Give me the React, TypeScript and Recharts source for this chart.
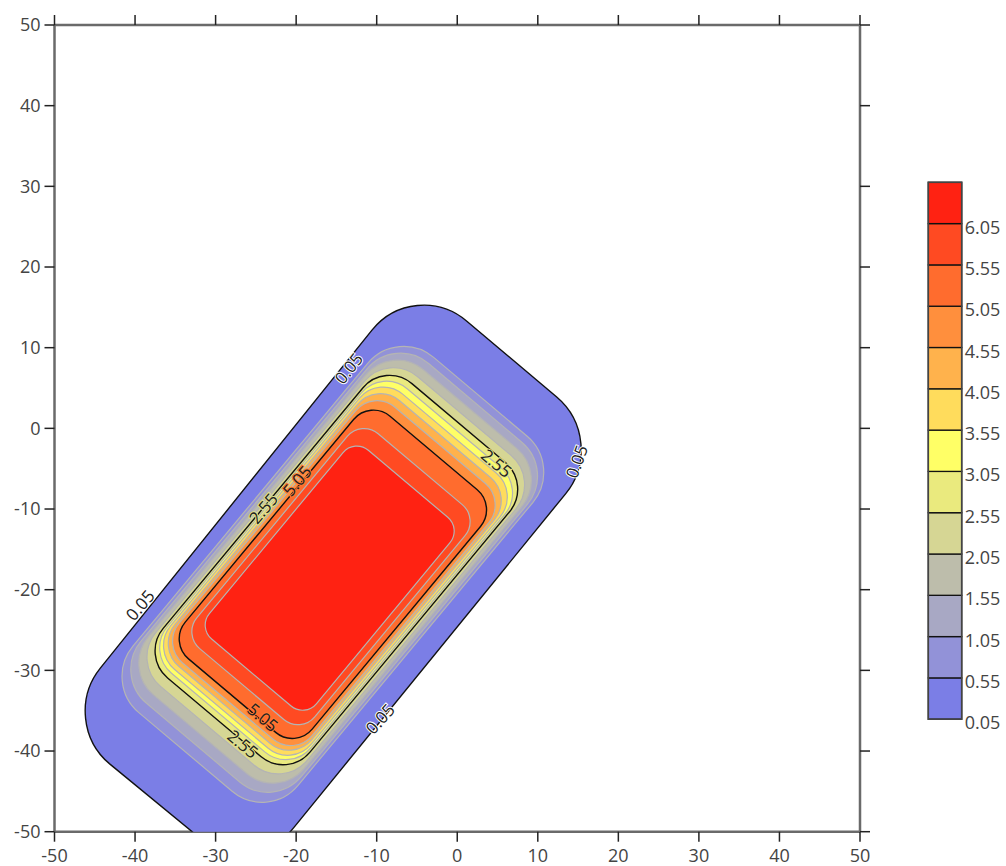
import React from 'react';
import { ScatterChart, Scatter, XAxis, YAxis } from 'recharts';

// ---------- data ----------
const axisTicks = [-50, -40, -30, -20, -10, 0, 10, 20, 30, 40, 50];
const levels = [0.05, 0.55, 1.05, 1.55, 2.05, 2.55, 3.05, 3.55, 4.05, 4.55, 5.05, 5.55, 6.05];
const levelLabels = ['0.05', '0.55', '1.05', '1.55', '2.05', '2.55', '3.05', '3.55', '4.05', '4.55', '5.05', '5.55', '6.05'];
// band i = values from levels[i] upward (up to next level)
const bandColors = [
  '#7b7ee6', '#9292d8', '#a8a8c4', '#bdbdab', '#d6d694', '#eaea7e',
  '#ffff66', '#ffdc5c', '#ffb24c', '#ff8f3d', '#ff6c2e', '#ff4a22', '#ff2212',
];

// contour outlines (corner points, data units)
const contour005 = [{ x: -5.3, y: 18.75 }, { x: 18.8, y: -1.55 }, { x: -25.6, y: -56.0 }, { x: -49.6, y: -36.3 }];
const contour055 = [{ x: -7.39, y: 12.55 }, { x: 13.11, y: -4.71 }, { x: -23.49, y: -48.74 }, { x: -43.99, y: -31.48 }];
const contour105 = [{ x: -7.73, y: 11.55 }, { x: 12.19, y: -5.23 }, { x: -22.83, y: -47.35 }, { x: -42.75, y: -30.57 }];
const contour155 = [{ x: -8.09, y: 10.54 }, { x: 11.27, y: -5.76 }, { x: -22.24, y: -46.06 }, { x: -41.6, y: -29.76 }];
const contour205 = [{ x: -8.52, y: 9.44 }, { x: 10.28, y: -6.38 }, { x: -21.64, y: -44.77 }, { x: -40.44, y: -28.95 }];
const contour255 = [{ x: -8.95, y: 8.34 }, { x: 9.27, y: -7.0 }, { x: -21.06, y: -43.48 }, { x: -39.28, y: -28.14 }];
const contour305 = [{ x: -9.31, y: 7.52 }, { x: 8.53, y: -7.5 }, { x: -20.77, y: -42.74 }, { x: -38.61, y: -27.72 }];
const contour355 = [{ x: -9.68, y: 6.69 }, { x: 7.78, y: -8.01 }, { x: -20.57, y: -42.11 }, { x: -38.03, y: -27.41 }];
const contour405 = [{ x: -10.0, y: 5.82 }, { x: 6.98, y: -8.48 }, { x: -20.41, y: -41.43 }, { x: -37.39, y: -27.13 }];
const contour455 = [{ x: -10.4, y: 4.85 }, { x: 6.12, y: -9.05 }, { x: -20.24, y: -40.75 }, { x: -36.76, y: -26.85 }];
const contour505 = [{ x: -10.81, y: 3.58 }, { x: 4.95, y: -9.68 }, { x: -20.07, y: -39.76 }, { x: -35.83, y: -26.5 }];
const contour555 = [{ x: -11.91, y: 1.09 }, { x: 2.71, y: -11.21 }, { x: -19.44, y: -37.85 }, { x: -34.06, y: -25.55 }];
const contour605 = [{ x: -12.75, y: -1.28 }, { x: 0.53, y: -12.46 }, { x: -18.92, y: -35.86 }, { x: -32.2, y: -24.68 }];

const contours = [
  contour005, contour055, contour105, contour155, contour205, contour255, contour305,
  contour355, contour405, contour455, contour505, contour555, contour605,
];

// contour labels
const contourLabels = [
  { x: -13.5, y: 7.45, text: '0.05' },
  { x: 14.8, y: -4.1, text: '0.05' },
  { x: -39.4, y: -21.9, text: '0.05' },
  { x: -9.6, y: -36.0, text: '0.05' },
  { x: -24.1, y: -9.9, text: '2.55' },
  { x: -19.9, y: -6.5, text: '5.05' },
  { x: 4.9, y: -4.3, text: '2.55' },
  { x: -24.1, y: -35.8, text: '5.05' },
  { x: -26.6, y: -39.1, text: '2.55' },
];

// ---------- styles ----------
const labelAngles = [-52, -70, -50, -48, -50, -50, 40, 40, 40];
const cornerRadii = [68, 47, 44, 41, 38, 35, 33, 31, 30, 28, 26, 22, 18];
const blackLevels = ['0.05', '2.55', '5.05'];
const FONT = '"Open Sans", "Noto Sans", sans-serif';

function roundedPath(pts: { x: number; y: number }[], r: number): string {
  const n = pts.length;
  const k = 0.5523;
  const segs = pts.map((v, i) => {
    const p = pts[(i - 1 + n) % n];
    const q = pts[(i + 1) % n];
    const d1 = Math.hypot(p.x - v.x, p.y - v.y) || 1;
    const d2 = Math.hypot(q.x - v.x, q.y - v.y) || 1;
    const t = Math.min(r, d1 / 2, d2 / 2);
    const a = { x: v.x + ((p.x - v.x) / d1) * t, y: v.y + ((p.y - v.y) / d1) * t };
    const b = { x: v.x + ((q.x - v.x) / d2) * t, y: v.y + ((q.y - v.y) / d2) * t };
    return { v, a, b };
  });
  let d = '';
  segs.forEach((s, i) => {
    const { v, a, b } = s;
    d += `${i === 0 ? 'M' : 'L'}${a.x},${a.y}`;
    const c1 = { x: a.x + (v.x - a.x) * k, y: a.y + (v.y - a.y) * k };
    const c2 = { x: b.x + (v.x - b.x) * k, y: b.y + (v.y - b.y) * k };
    d += `C${c1.x},${c1.y} ${c2.x},${c2.y} ${b.x},${b.y}`;
  });
  return d + 'Z';
}

const makeContourLine = (fill: string, stroke: string, sw: number, r: number) => (props: any) => {
  const pts = (props.points || []).filter((p: any) => p && Number.isFinite(p.x) && Number.isFinite(p.y));
  if (pts.length < 3) return <g />;
  return <path d={roundedPath(pts, r)} fill={fill} stroke={stroke} strokeWidth={sw} />;
};

const haloFor: Record<string, string> = { '0.05': '#ffffff', '2.55': '#e2e28a', '5.05': '#ff7a34' };

const LabelShape = (p: any) => {
  const idx = contourLabels.findIndex((l) => l.x === p.payload?.x && l.y === p.payload?.y);
  const angle = labelAngles[idx] ?? -50;
  const text = p.payload?.text ?? '';
  return (
    <text
      x={p.cx}
      y={p.cy}
      transform={`rotate(${angle} ${p.cx} ${p.cy})`}
      textAnchor="middle"
      dominantBaseline="central"
      fontFamily={FONT}
      fontSize={17}
      fill="#222"
      stroke={haloFor[text] || 'none'}
      strokeWidth={2}
      paintOrder="stroke"
    >
      {text}
    </text>
  );
};

const EmptyShape = () => <g />;

const tickStyle = { fill: '#444', fontSize: 18, fontFamily: FONT };
const tickLineStyle = { stroke: '#222', strokeWidth: 1.5 };
const axisLineStyle = { stroke: '#6a6a6a', strokeWidth: 2.5 };

function ColorBar() {
  const top = 2.3;
  const left = 2.3;
  const w = 33.4;
  const h = 41.3;
  const nb = bandColors.length;
  return (
    <svg width={80} height={570} style={{ position: 'absolute', left: 926, top: 180, overflow: 'visible' }}>
      {bandColors.map((c, i) => (
        <rect key={i} x={left} y={top + (nb - 1 - i) * h} width={w} height={h} fill={c} stroke="#111" strokeWidth={1.3} />
      ))}
      <rect x={left} y={top} width={w} height={nb * h} fill="none" stroke="#444" strokeWidth={1.6} />
      {levels.map((lv, i) => (
        <text
          key={lv}
          x={left + w + 3}
          y={top + (nb - i) * h + 3}
          dominantBaseline="central"
          fontFamily={FONT}
          fontSize={18}
          fill="#444"
        >
          {levelLabels[i]}
        </text>
      ))}
    </svg>
  );
}

export default function App() {
  return (
    <div style={{ position: 'relative', width: 1006, height: 866, overflow: 'hidden', background: '#fff' }}>
      <style>{'html,body{margin:0;overflow:hidden;} .recharts-surface{overflow:visible;}'}</style>
      <div style={{ position: 'absolute', left: 8, top: 8 }}>
        <ScatterChart width={990} height={858} margin={{ top: 7, right: 126, bottom: 4.3, left: 6.5 }}>
          <XAxis
            xAxisId={0}
            dataKey="x"
            type="number"
            domain={[-50, 50]}
            ticks={axisTicks}
            allowDataOverflow
            orientation="bottom"
            height={30}
            tickSize={10}
            tickMargin={8}
            tick={tickStyle}
            tickLine={tickLineStyle}
            axisLine={axisLineStyle}
            interval={0}
          />
          <XAxis
            xAxisId="top"
            dataKey="x"
            type="number"
            domain={[-50, 50]}
            ticks={axisTicks}
            allowDataOverflow
            orientation="top"
            height={10}
            tickSize={10}
            tickFormatter={() => ''}
            tickLine={tickLineStyle}
            axisLine={axisLineStyle}
            interval={0}
          />
          <YAxis
            yAxisId={0}
            dataKey="y"
            type="number"
            domain={[-50, 50]}
            ticks={axisTicks}
            allowDataOverflow
            orientation="left"
            width={40}
            tickSize={10}
            tickMargin={4}
            tick={tickStyle}
            tickLine={tickLineStyle}
            axisLine={axisLineStyle}
            interval={0}
          />
          <YAxis
            yAxisId="right"
            dataKey="y"
            type="number"
            domain={[-50, 50]}
            ticks={axisTicks}
            allowDataOverflow
            orientation="right"
            width={12}
            tickSize={10}
            tickFormatter={() => ''}
            tickLine={tickLineStyle}
            axisLine={axisLineStyle}
            interval={0}
          />
          {contours.map((c, i) => {
            const isBlack = blackLevels.includes(levelLabels[i]);
            return (
              <Scatter
                key={levelLabels[i]}
                name={levelLabels[i]}
                data={c}
                xAxisId={0}
                yAxisId={0}
                line={makeContourLine(bandColors[i], isBlack ? '#111' : '#b4b4b4', isBlack ? 1.4 : 1.2, cornerRadii[i])}
                lineType="joint"
                shape={EmptyShape}
                isAnimationActive={false}
              />
            );
          })}
          <Scatter
            name="labels"
            data={contourLabels}
            xAxisId={0}
            yAxisId={0}
            shape={LabelShape}
            isAnimationActive={false}
          />
        </ScatterChart>
      </div>
      <ColorBar />
    </div>
  );
}
